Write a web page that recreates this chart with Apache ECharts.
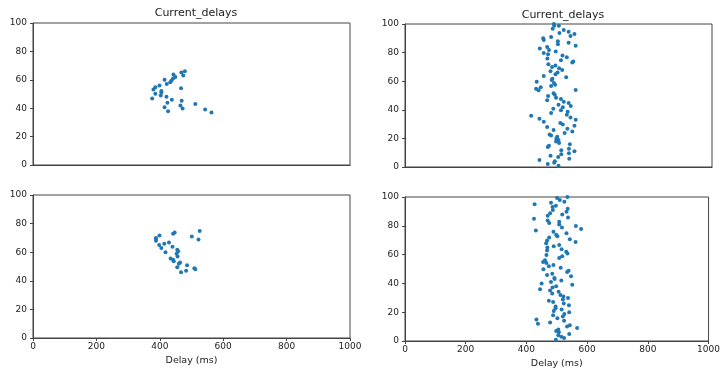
<!DOCTYPE html>
<html>
<head>
<meta charset="utf-8">
<script src="https://cdn.jsdelivr.net/npm/echarts@6/dist/echarts.min.js"></script>
<style>
  html, body { margin: 0; padding: 0; background: #fff; }
  #chart { width: 723px; height: 370px; }
</style>
</head>
<body>
<div id="chart"></div>
<script>
// top-left panel
const tlDelay = [376, 380, 386, 386, 399, 403, 405, 405, 415, 421, 422, 424, 426, 415, 433,
  437, 438, 442, 443, 449, 467, 465, 469, 472, 468, 474, 479, 512, 543, 563]
const tlValue = [46.8, 53.2, 54.8, 50.1, 56, 49, 52.2, 51, 60, 48, 57, 43.8, 37.9, 40.7, 58.3,
  59.5, 45.9, 60.9, 63.7, 62, 54.1, 41.9, 45.2, 39.8, 65.1, 63, 66, 42.9, 39.1, 37]

// bottom-left panel
const blDelay = [388, 388, 388, 399, 398, 405, 414, 418, 429, 434, 440, 442, 444, 442, 447,
  453, 455, 456, 458, 455, 460, 464, 467, 483, 486, 501, 509, 512, 522, 526]
const blValue = [70, 69.2, 68, 71.7, 65, 62.9, 65.9, 60, 66.8, 55.6, 63.8, 54.7, 53.7, 72.9, 73.8,
  58.9, 61.7, 57, 60.7, 49.5, 51.9, 52.8, 46, 47, 50.9, 71, 48.8, 48.1, 68.9, 74.8]

// top-right panel
const trDelay = [485, 486, 501, 481, 517, 533, 503, 552, 539, 476, 450, 452, 498, 533, 498,
  556, 463, 439, 469, 491, 452, 466, 513, 527, 464, 508, 548, 545, 467, 490,
  479, 502, 512, 474, 497, 490, 452, 525, 480, 478, 429, 485, 489, 476, 442,
  427, 435, 556, 484, 488, 466, 492, 508, 463, 517, 533, 500, 540, 514, 483,
  508, 530, 476, 527, 411, 539, 438, 556, 452, 506, 514, 552, 463, 529, 484,
  545, 520, 471, 476, 496, 493, 500, 492, 502, 537, 469, 465, 534, 509, 552,
  534, 509, 474, 499, 535, 438, 488, 486, 465, 500]
const trValue = [100, 98.8, 98.8, 96.7, 95.8, 94.6, 93.7, 93, 91.6, 90.9, 90, 88.8, 87.9, 86.9, 85.8,
  84.8, 83.9, 82.8, 81.8, 80.7, 79.7, 78.8, 77.9, 76.7, 75.8, 74.6, 73.7, 73, 71.8, 70.9,
  69.9, 69, 67.8, 66.9, 66, 64.8, 63.6, 62.7, 61.8, 60.8, 59.7, 58.7, 57.6, 56.6, 55.7,
  54.8, 53.6, 53.8, 51.5, 50.6, 49.7, 48.5, 47.6, 46.6, 45.7, 44.8, 43.6, 42.7, 41.7, 40.8,
  39.6, 38.7, 37.8, 36.6, 35.9, 34.7, 33.8, 33.1, 31.7, 30.8, 29.8, 28.9, 28, 26.8, 25.9,
  24.9, 23.8, 22.8, 22.1, 21.2, 20, 18.9, 17.9, 16.8, 15.9, 14.9, 14, 12.8, 11.7, 11,
  9.6, 8.9, 7.9, 7, 5.8, 4.9, 4, 3, 2.1, 0.9]

// bottom-right panel
const brDelay = [535, 501, 510, 525, 481, 427, 497, 486, 536, 487, 532, 478, 518, 470, 537,
  425, 470, 508, 475, 508, 563, 517, 580, 431, 489, 532, 498, 502, 475, 543,
  468, 562, 465, 508, 490, 469, 516, 468, 531, 535, 466, 518, 508, 461, 455,
  466, 489, 474, 513, 456, 539, 534, 485, 468, 547, 492, 493, 515, 481, 450,
  551, 498, 486, 445, 478, 506, 485, 512, 522, 537, 520, 474, 488, 523, 540,
  496, 496, 516, 490, 541, 525, 488, 520, 502, 433, 524, 438, 478, 543, 534,
  567, 505, 498, 507, 541, 505, 515, 524, 497]
const brValue = [100, 99.3, 97.9, 96.7, 96, 94.9, 94, 93, 91.9, 90.9, 89.8, 88.8, 87.9, 86.9, 85.8,
  84.9, 83.7, 82.8, 81.9, 80.9, 79.8, 78.8, 77.7, 76.7, 75.8, 74.9, 73.7, 72.8, 71.9, 70.7,
  69.8, 68.8, 67.9, 66.7, 65.8, 64.9, 63.7, 62.8, 61.9, 60.7, 59.8, 58.8, 57.7, 56, 54.9,
  54.2, 52.8, 51.9, 50.9, 49.8, 48.8, 47.9, 46.7, 45.8, 44.9, 43.7, 43, 42.1, 40.9, 40,
  39.1, 38.1, 37.2, 36, 35, 34.2, 32.9, 31.9, 30.9, 29.8, 28.8, 27.9, 27, 26, 24.9,
  24, 22.8, 21.9, 20.9, 20, 18.8, 17.9, 17, 15.8, 14.9, 14, 11.9, 12.8, 10.9, 10,
  9.1, 7.9, 7, 6, 4.9, 4, 3, 2.1, 0.9]

const xTicks = [0, 200, 400, 600, 800, 1000]
const yTicks = [0, 20, 40, 60, 80, 100]
const titleText = 'Current_delays'
const xName = 'Delay (ms)'

const chart = echarts.init(document.getElementById('chart'))

const zip = (xs, ys) => xs.map((x, i) => [x, ys[i]])
const panels = [
  { delay: tlDelay, value: tlValue, grid: { left: 33, top: 23, width: 317, height: 142 }, bottom: false },
  { delay: blDelay, value: blValue, grid: { left: 33, top: 195, width: 317, height: 143 }, bottom: true },
  { delay: trDelay, value: trValue, grid: { left: 405, top: 24, width: 307, height: 143 }, bottom: false },
  { delay: brDelay, value: brValue, grid: { left: 405, top: 197, width: 306, height: 144 }, bottom: true }
]

const font = 'DejaVu Sans'
const lineColor = '#444'
const textColor = '#222'

const option = {
  animation: false,
  backgroundColor: '#fff',
  textStyle: { fontFamily: font },
  title: [
    { text: titleText, left: 191, top: 3, textAlign: 'center',
      textStyle: { fontSize: 11, fontWeight: 'normal', color: textColor, fontFamily: font } },
    { text: titleText, left: 558, top: 5, textAlign: 'center',
      textStyle: { fontSize: 11, fontWeight: 'normal', color: textColor, fontFamily: font } }
  ],
  grid: panels.map(p => Object.assign({ show: true, borderColor: lineColor, borderWidth: 1, backgroundColor: '#fff' }, p.grid)),
  xAxis: panels.map((p, i) => ({
    type: 'value',
    gridIndex: i,
    min: xTicks[0],
    max: xTicks[xTicks.length - 1],
    interval: xTicks[1] - xTicks[0],
    name: p.bottom ? xName : '',
    nameLocation: 'middle',
    nameGap: 18,
    nameTextStyle: { fontSize: 9.5, color: textColor, fontFamily: font },
    axisLine: { show: true, lineStyle: { color: lineColor, width: 1 } },
    axisTick: { show: p.bottom, length: 3, lineStyle: { color: lineColor } },
    axisLabel: { show: p.bottom, margin: 4, fontSize: 9, color: textColor, fontFamily: font,
      formatter: v => String(v) },
    splitLine: { show: false }
  })),
  yAxis: panels.map((p, i) => ({
    type: 'value',
    gridIndex: i,
    min: yTicks[0],
    max: yTicks[yTicks.length - 1],
    interval: yTicks[1] - yTicks[0],
    axisLine: { show: true, lineStyle: { color: lineColor, width: 1 } },
    axisTick: { show: true, length: 3, lineStyle: { color: lineColor } },
    axisLabel: { margin: 6, fontSize: 9, color: textColor, fontFamily: font,
      formatter: v => String(v) },
    splitLine: { show: false }
  })),
  series: panels.map((p, i) => ({
    type: 'scatter',
    xAxisIndex: i,
    yAxisIndex: i,
    data: zip(p.delay, p.value),
    symbol: 'circle',
    symbolSize: 4,
    itemStyle: { color: '#1f77b4', opacity: 1 },
    clip: true
  }))
}

chart.setOption(option)
</script>
</body>
</html>
